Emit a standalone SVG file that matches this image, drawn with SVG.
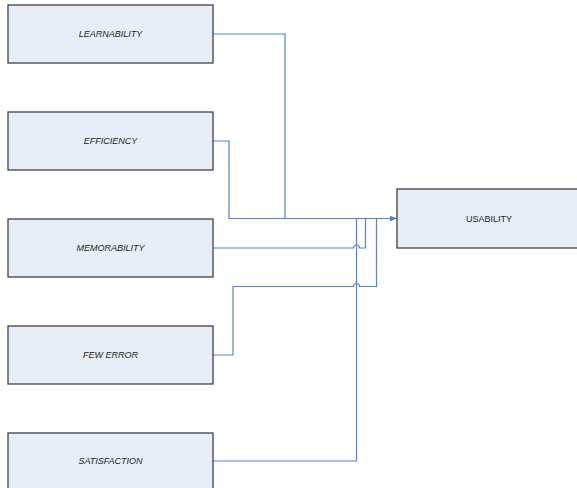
<svg xmlns="http://www.w3.org/2000/svg" width="577" height="488" viewBox="0 0 577 488">
<style>
.box{fill:#e8eef8;stroke:#333;stroke-width:1.2}
.t{font-family:"Liberation Sans",Arial,sans-serif;font-size:9px;font-style:italic;fill:#222;text-anchor:middle;dominant-baseline:central}
.u{font-style:normal}
.c{fill:none;stroke:#5284d0;stroke-width:1.2}
</style>
<defs>
<marker id="arr" viewBox="0 0 10 10" refX="10" refY="5" markerWidth="7" markerHeight="7" markerUnits="userSpaceOnUse" orient="auto">
<path d="M0,1 L10,5 L0,9 z" fill="#4a7cc8"/>
</marker>
</defs>
<rect width="577" height="488" fill="#fff"/>
<g id="connectors">
<path class="c" d="M213,34 H285 V218.5"/>
<path class="c" d="M213,141 H229 V218.5 H397" marker-end="url(#arr)"/>
<path class="c" d="M213,248 H353.5 A3,3 0 0 1 359.5,248 H365.5 V218.5"/>
<path class="c" d="M213,355 H233 V286.5 H353.5 A3,3 0 0 1 359.5,286.5 H376.5 V218.5"/>
<path class="c" d="M213,461 H356.5 V218.5"/>
</g>
<g id="learnability"><rect class="box" x="8" y="5" width="205" height="58"/><text class="t" x="110.5" y="34">LEARNABILITY</text></g>
<g id="efficiency"><rect class="box" x="8" y="112" width="205" height="58"/><text class="t" x="110.5" y="141">EFFICIENCY</text></g>
<g id="memorability"><rect class="box" x="8" y="219" width="205" height="58"/><text class="t" x="110.5" y="248">MEMORABILITY</text></g>
<g id="few-error"><rect class="box" x="8" y="326" width="205" height="58"/><text class="t" x="110.5" y="355">FEW ERROR</text></g>
<g id="satisfaction"><rect class="box" x="8" y="433" width="205" height="58"/><text class="t" x="110.5" y="461">SATISFACTION</text></g>
<g id="usability"><rect class="box" x="397" y="189" width="184" height="59"/><text class="t u" x="489" y="219">USABILITY</text></g>
</svg>
